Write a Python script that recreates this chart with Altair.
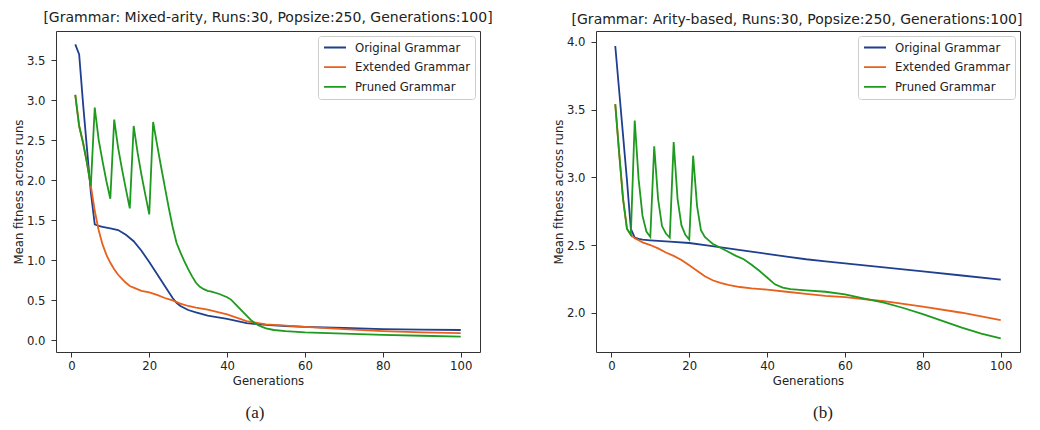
import altair as alt
import pandas as pd

SERIES = ["Original Grammar", "Extended Grammar", "Pruned Grammar"]
COLORS = ["#1f3f8f", "#e8601c", "#1e9a1e"]

# ---- Panel (a): Mixed-arity ----
a_orig_gen = [1, 2, 3, 4, 5, 6, 7, 8, 10, 12, 14, 16, 18, 20, 22, 24, 26, 27, 28, 30, 32, 35, 40, 45, 50, 55, 60, 70, 80, 90, 100]
a_orig_val = [3.70, 3.575, 2.96, 2.40, 1.85, 1.45, 1.43, 1.42, 1.40, 1.38, 1.32, 1.24, 1.12, 0.98, 0.83, 0.68, 0.53, 0.47, 0.43, 0.38, 0.35, 0.31, 0.27, 0.215, 0.195, 0.18, 0.17, 0.155, 0.14, 0.135, 0.13]

a_ext_gen = [1, 2, 3, 4, 5, 6, 7, 8, 9, 10, 11, 12, 13, 14, 15, 16, 18, 20, 22, 24, 26, 28, 30, 32, 35, 40, 45, 50, 55, 60, 70, 80, 90, 100]
a_ext_val = [3.07, 2.68, 2.47, 2.22, 1.93, 1.62, 1.38, 1.20, 1.07, 0.97, 0.89, 0.82, 0.77, 0.72, 0.68, 0.66, 0.62, 0.60, 0.57, 0.53, 0.50, 0.46, 0.43, 0.41, 0.385, 0.325, 0.24, 0.20, 0.185, 0.17, 0.14, 0.115, 0.10, 0.09]

a_pru_gen = list(range(1, 37)) + [38, 40, 41, 42, 43, 44, 45, 46, 47, 48, 49, 50, 52, 55, 60, 70, 80, 90, 100]
a_pru_val = [3.07, 2.68, 2.47, 2.22, 1.93, 2.91, 2.51, 2.24, 1.99, 1.77,
             2.76, 2.41, 2.14, 1.89, 1.65, 2.68, 2.35, 2.07, 1.82, 1.575,
             2.73, 2.45, 2.18, 1.92, 1.66, 1.42, 1.22, 1.10, 0.99, 0.89,
             0.80, 0.72, 0.67, 0.64, 0.62, 0.61, 0.58, 0.54, 0.51, 0.46,
             0.41, 0.36, 0.31, 0.26, 0.22, 0.19, 0.17, 0.15, 0.13, 0.115,
             0.10, 0.085, 0.07, 0.058, 0.048]

# ---- Panel (b): Arity-based ----
b_orig_gen = [1, 2, 3, 4, 5, 6, 7, 8, 10, 15, 20, 25, 30, 35, 40, 45, 50, 55, 60, 70, 80, 90, 100]
b_orig_val = [3.97, 3.64, 3.31, 2.98, 2.62, 2.555, 2.545, 2.54, 2.535, 2.525, 2.515, 2.495, 2.475, 2.455, 2.435, 2.415, 2.395, 2.38, 2.365, 2.335, 2.305, 2.275, 2.245]

b_ext_gen = [1, 2, 3, 4, 5, 6, 7, 8, 10, 12, 14, 16, 18, 20, 22, 24, 26, 28, 30, 33, 36, 40, 45, 50, 55, 60, 70, 80, 90, 100]
b_ext_val = [3.54, 3.18, 2.84, 2.62, 2.575, 2.55, 2.535, 2.52, 2.50, 2.475, 2.445, 2.42, 2.39, 2.35, 2.31, 2.27, 2.24, 2.22, 2.205, 2.19, 2.18, 2.17, 2.155, 2.14, 2.125, 2.115, 2.085, 2.045, 2.0, 1.945]

b_pru_gen = list(range(1, 26)) + [26, 28, 30, 32, 34, 36, 38, 40, 42, 44, 46, 50, 55, 60, 65, 70, 75, 80, 85, 90, 95, 100]
b_pru_val = [3.54, 3.18, 2.84, 2.62, 2.575, 3.42, 2.985, 2.715, 2.60, 2.56,
             3.23, 2.84, 2.64, 2.585, 2.555, 3.26, 2.84, 2.645, 2.575, 2.54,
             3.16, 2.79, 2.61, 2.56, 2.535, 2.51, 2.48, 2.45, 2.42, 2.395,
             2.355, 2.31, 2.26, 2.21, 2.185, 2.175, 2.165, 2.155, 2.136, 2.105,
             2.075, 2.035, 1.99, 1.94, 1.89, 1.845, 1.81]

TITLE_A = "[Grammar: Mixed-arity, Runs:30, Popsize:250, Generations:100]"
TITLE_B = "[Grammar: Arity-based, Runs:30, Popsize:250, Generations:100]"
X_TICKS = [0, 20, 40, 60, 80, 100]
Y_TICKS_A = [0.0, 0.5, 1.0, 1.5, 2.0, 2.5, 3.0, 3.5]
Y_TICKS_B = [2.0, 2.5, 3.0, 3.5, 4.0]


def make_df(parts):
    rows = []
    for name, gens, vals in parts:
        for g, v in zip(gens, vals):
            rows.append({"gen": g, "val": v, "series": name})
    return pd.DataFrame(rows)


df_a = make_df([(SERIES[0], a_orig_gen, a_orig_val),
                (SERIES[1], a_ext_gen, a_ext_val),
                (SERIES[2], a_pru_gen, a_pru_val)])
df_b = make_df([(SERIES[0], b_orig_gen, b_orig_val),
                (SERIES[1], b_ext_gen, b_ext_val),
                (SERIES[2], b_pru_gen, b_pru_val)])

W, H = 424, 321


def panel(df, title, ydomain, yticks, caption, caption_x, title_dx, title_dy):
    x = alt.X("gen:Q",
              scale=alt.Scale(domain=[-3.95, 104.95], nice=False, zero=False),
              axis=alt.Axis(values=X_TICKS, format="d", title="Generations"))
    y = alt.Y("val:Q",
              scale=alt.Scale(domain=ydomain, nice=False, zero=False),
              axis=alt.Axis(values=yticks, format=".1f", title="Mean fitness across runs"))
    color = alt.Color("series:N",
                      scale=alt.Scale(domain=SERIES, range=COLORS),
                      sort=SERIES,
                      legend=alt.Legend(title=None, orient="top-right"))
    lines = alt.Chart(df).mark_line(strokeWidth=1.8, clip=True).encode(
        x=x, y=y, color=color, detail="series:N")
    cap = alt.Chart(pd.DataFrame({"t": [caption]})).mark_text(
        font="Liberation Serif", fontSize=17, align="center", baseline="middle", color="#222"
    ).encode(text="t:N", x=alt.value(caption_x), y=alt.value(H + 61))
    return alt.layer(lines, cap).properties(
        width=W, height=H,
        title=alt.TitleParams(title, fontSize=14, font="DejaVu Sans", fontWeight="normal",
                              color="#222", anchor="middle", dx=title_dx, dy=title_dy, offset=6))


p1 = panel(df_a, TITLE_A, [-0.145, 3.8675], Y_TICKS_A, "(a)", 199, 0, 0)
p2 = panel(df_b, TITLE_B, [1.71, 4.081], Y_TICKS_B, "(b)", 227, -11, 1.5)

chart = alt.hconcat(p1, p2, spacing=116, bounds="flush").resolve_scale(
    color="independent"
).resolve_legend(color="independent").properties(
    padding={"left": 4, "top": 2, "right": 5, "bottom": 5}
).configure_view(
    stroke="#333333", strokeWidth=1
).configure_axis(
    grid=False, domain=False, tickColor="#333333", tickSize=5, tickWidth=1,
    labelFont="DejaVu Sans", labelFontSize=11.7, labelColor="#222222",
    titleFont="DejaVu Sans", titleFontSize=11.7, titleFontWeight="normal", titleColor="#222222"
).configure_axisX(
    labelPadding=3, titlePadding=4
).configure_axisY(
    labelPadding=6, titlePadding=2
).configure_legend(
    symbolType="stroke", symbolSize=484, symbolStrokeWidth=1.8,
    labelFont="DejaVu Sans", labelFontSize=11.7, labelColor="#222222", labelLimit=300,
    labelOffset=8, padding=5, rowPadding=5.7, clipHeight=13,
    strokeColor="#cccccc", fillColor="white", cornerRadius=3, offset=5
)

chart.save("out.html", embed_options={"renderer": "svg", "actions": False})
